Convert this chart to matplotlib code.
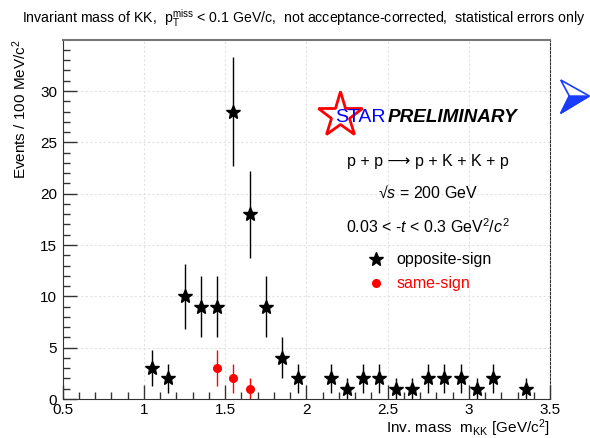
import numpy as np
import matplotlib
matplotlib.use('Agg')
import matplotlib.pyplot as plt
from matplotlib.patches import Polygon

plt.rcParams['font.family'] = ['Liberation Sans', 'DejaVu Sans']
plt.rcParams['mathtext.fontset'] = 'custom'
plt.rcParams['mathtext.rm'] = 'Liberation Sans'
plt.rcParams['mathtext.it'] = 'Liberation Sans:italic'
plt.rcParams['mathtext.bf'] = 'Liberation Sans:bold'

# opposite-sign KK pairs (bin centres, counts, stat. errors)
os_mass = [1.05, 1.15, 1.25, 1.35, 1.45, 1.55, 1.65, 1.75, 1.85, 1.95,
           2.15, 2.25, 2.35, 2.45, 2.55, 2.65, 2.75, 2.85, 2.95, 3.05,
           3.15, 3.35]
os_counts = [3, 2, 10, 9, 9, 28, 18, 9, 4, 2,
             2, 1, 2, 2, 1, 1, 2, 2, 2, 1,
             2, 1]
os_err = [1.73, 1.41, 3.16, 3.0, 3.0, 5.29, 4.24, 3.0, 2.0, 1.41,
          1.41, 1.0, 1.41, 1.41, 1.0, 1.0, 1.41, 1.41, 1.41, 1.0,
          1.41, 1.0]

# same-sign KK pairs
ss_mass = [1.45, 1.55, 1.65]
ss_counts = [3, 2, 1]
ss_err = [1.73, 1.41, 1.0]

fig = plt.figure(figsize=(5.9, 4.38), dpi=100)
ax = fig.add_axes([0.1063, 0.089, 0.8259, 0.8204])

ax.errorbar(os_mass, os_counts, yerr=os_err, fmt='*', color='black',
            ms=10.5, elinewidth=1.0, capsize=0, zorder=3)
ax.errorbar(ss_mass, ss_counts, yerr=ss_err, fmt='o', color='red',
            ms=5.5, elinewidth=1.0, capsize=0, zorder=3)

ax.set_xlim(0.5, 3.5)
ax.set_ylim(0, 35)
ax.set_xticks(np.arange(0.5, 3.51, 0.5))
ax.set_xticklabels(['0.5', '1', '1.5', '2', '2.5', '3', '3.5'])
ax.set_xticks(np.arange(0.5, 3.51, 0.1), minor=True)
ax.set_yticks(np.arange(0, 31, 5))
ax.set_yticks(np.arange(0, 35, 1), minor=True)

ax.grid(True, which='major', color='#e2e2e2', linestyle=(0, (2, 2)), lw=0.8)
ax.set_axisbelow(True)

ax.tick_params(which='both', direction='in', top=False, right=False,
               labelsize=11, color='#333333')
ax.tick_params(which='major', length=10, width=1)
ax.tick_params(which='minor', length=5, width=1)
ax.tick_params(axis='x', pad=3)
ax.tick_params(axis='y', pad=4)

ax.spines['left'].set_color('#333333')
ax.spines['bottom'].set_color('#333333')
ax.spines['top'].set_color('#777777')
ax.spines['top'].set_linewidth(1.5)
ax.spines['right'].set_linestyle((0, (2, 1.5)))
ax.spines['right'].set_color('#333333')

ax.set_xlabel(r'Inv. mass  m$_{\rm KK}$ [GeV/c$^{2}$]', fontsize=11,
              ha='right', va='top')
ax.xaxis.set_label_coords(1.0, -0.052)
ax.set_ylabel(r'Events / 100 MeV/c$^{2}$', fontsize=11, ha='right')
ax.yaxis.set_label_coords(-0.07, 1.0)

fig.text(0.037, 0.958,
         r'Invariant mass of KK,  p$_{\rm T}^{\rm miss}$ < 0.1 GeV/c,  '
         'not acceptance-corrected,  statistical errors only',
         fontsize=10.2, ha='left', va='center')

# STAR preliminary logo
fig.lines.append(plt.Line2D([340 / 590], [1 - 115 / 438], marker='*',
                            ms=34, mfc='none', mec='red', mew=2.0,
                            transform=fig.transFigure))
fig.text(360 / 590, 1 - 117 / 438, 'STAR', color='blue', fontsize=14,
         ha='center', va='center')
fig.text(388 / 590, 1 - 118 / 438, 'PRELIMINARY', fontsize=13.6,
         fontweight='bold', fontstyle='italic', ha='left', va='center')

ax.text(0.75, 0.662, 'p + p \u27f6 p + K + K + p', transform=ax.transAxes,
        fontsize=11.5, ha='center', va='center')
ax.text(0.75, 0.573, '\u221a$s$ = 200 GeV', transform=ax.transAxes,
        fontsize=11.5, ha='center', va='center')
ax.text(0.75, 0.4786, r'0.03 < -$t$ < 0.3 GeV$^2$/$c^2$', transform=ax.transAxes,
        fontsize=11.5, ha='center', va='center')

# legend
ax.plot([0.643], [0.3895], marker='*', color='black', ms=10,
        transform=ax.transAxes, clip_on=False)
ax.text(0.685, 0.3895, 'opposite-sign', transform=ax.transAxes,
        fontsize=11.5, ha='left', va='center')
ax.plot([0.643], [0.3228], marker='o', color='red', ms=5.5,
        transform=ax.transAxes, clip_on=False)
ax.text(0.685, 0.3228, 'same-sign', color='red', transform=ax.transAxes,
        fontsize=11.5, ha='left', va='center')

# blue arrow at top right
A = (560.7 / 590, 1 - 80 / 438)
T = (589.3 / 590, 1 - 96 / 438)
N = (569.3 / 590, 1 - 96 / 438)
B = (560.7 / 590, 1 - 113.3 / 438)
fig.patches.append(Polygon([A, T, B, N], closed=True, fc='white', ec='#1a3cff',
                           lw=1.2, transform=fig.transFigure))
fig.patches.append(Polygon([N, T, B], closed=True, fc='#1a3cff', ec='#1a3cff',
                           lw=1.0, transform=fig.transFigure))

fig.savefig('out.png', dpi=100)
